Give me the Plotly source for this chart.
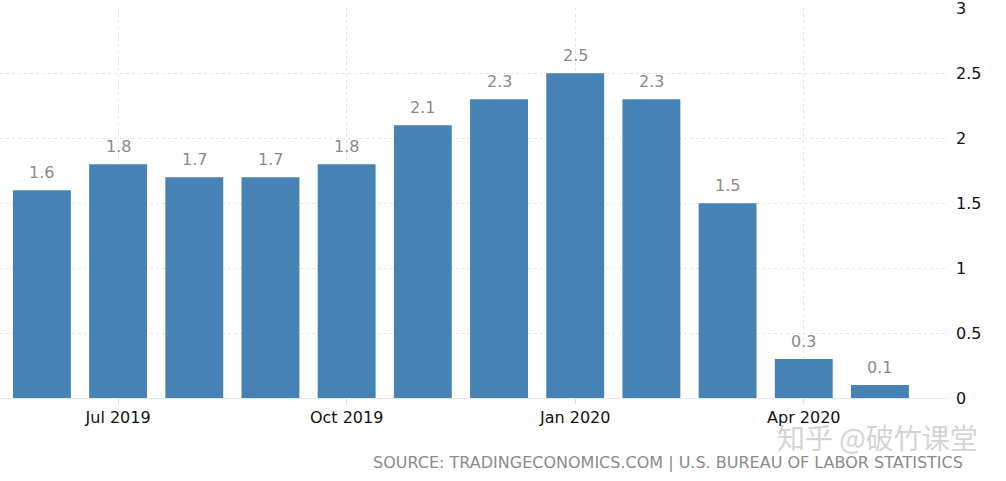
import plotly.graph_objects as go

# Monthly values
months = ["Jun 2019", "Jul 2019", "Aug 2019", "Sep 2019", "Oct 2019", "Nov 2019",
          "Dec 2019", "Jan 2020", "Feb 2020", "Mar 2020", "Apr 2020", "May 2020"]
values = [1.6, 1.8, 1.7, 1.7, 1.8, 2.1, 2.3, 2.5, 2.3, 1.5, 0.3, 0.1]
tick_months = ["Jul 2019", "Oct 2019", "Jan 2020", "Apr 2020"]
y_ticks = [0, 0.5, 1, 1.5, 2, 2.5, 3]
y_tick_text = ["0", "0.5", "1", "1.5", "2", "2.5", "3"]

FONT = "DejaVu Sans"

fig = go.Figure()
fig.add_trace(go.Bar(
    x=months,
    y=values,
    marker=dict(color="#4682b4", line=dict(width=0)),
    width=0.76,
    hoverinfo="x+y",
))

# value labels above bars
for m, v in zip(months, values):
    fig.add_annotation(
        x=m, y=v, text=f"{v:g}", showarrow=False,
        yanchor="bottom", yshift=6,
        font=dict(family=FONT, size=16, color="#8a8a8a"),
    )

# source line and watermark (paper coords below the plot)
fig.add_annotation(
    xref="paper", yref="paper", x=1.0195, y=-0.165, xanchor="right", yanchor="middle",
    text="SOURCE: TRADINGECONOMICS.COM | U.S. BUREAU OF LABOR STATISTICS",
    showarrow=False, font=dict(family=FONT, size=16, color="#8a8a8a"),
)
fig.add_annotation(
    xref="paper", yref="paper", x=1.035, y=-0.1, xanchor="right", yanchor="middle",
    text="知乎 @破竹课堂", showarrow=False,
    font=dict(family="Noto Sans CJK SC", size=28, color="#d4d4d4"),
)

fig.update_layout(
    width=1006, height=481,
    margin=dict(l=0, r=59, t=8, b=83, autoexpand=False),
    plot_bgcolor="white", paper_bgcolor="white",
    showlegend=False,
    font=dict(family=FONT, size=16, color="#111111"),
)
fig.update_xaxes(
    type="category",
    range=[-0.55, 11.88],
    tickmode="array", tickvals=tick_months, ticktext=tick_months,
    showgrid=True, gridcolor="#e4e4e4", griddash="dot",
    ticks="outside", ticklen=5, tickcolor="#dddddd",
    showline=True, linecolor="#e8e8e8",
    tickfont=dict(family=FONT, size=16, color="#111111"),
    zeroline=False,
)
fig.update_yaxes(
    side="right", range=[0, 3.002],
    tickmode="array", tickvals=y_ticks, ticktext=y_tick_text,
    showgrid=True, gridcolor="#e4e4e4", griddash="dot",
    zeroline=False, ticks="", ticklabelstandoff=8,
    ticklabeloverflow="allow",
    tickfont=dict(family=FONT, size=16, color="#111111"),
)

# drop the default page margin so the figure sits at the window corner
fig.write_html(
    "out.html",
    config={"displayModeBar": False},
    post_script="document.body.style.margin='0';",
)
